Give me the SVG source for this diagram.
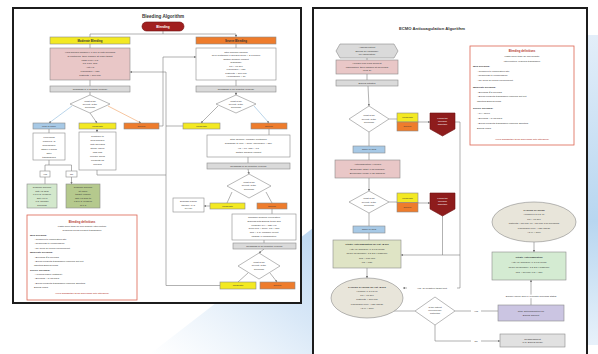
<svg xmlns="http://www.w3.org/2000/svg" width="598" height="354" viewBox="0 0 598 354">
<defs>
<style>
.t{font-family:"Liberation Sans",Arial,sans-serif;font-size:2.5px;fill:#333;text-anchor:middle}
.tl{text-anchor:start}
.b{font-weight:bold}
.w{fill:#fff}
.red{fill:#b5372b}
.bx{stroke:#8a8a8a;stroke-width:0.6}
.frame{fill:#fff;stroke:#1c1c1c;stroke-width:2}
.yel{fill:#f3e922}
.org{fill:#ee7c2c}
.blu{fill:#a7c9e6}
.pnk{fill:#e9c7c7}
.gry{fill:#dadada}
.wht{fill:#fff}
.def{fill:#fff;stroke:#dd6452;stroke-width:0.8}
.dk{fill:#8e1c1c;stroke:#6e1010;stroke-width:0.6}
.c path,.c line{fill:none;stroke:#7d7d7d;stroke-width:0.6}
.lb{fill:#fff}
</style>
<marker id="ah" viewBox="0 0 6 6" refX="5.6" refY="3" markerWidth="4" markerHeight="4" orient="auto"><path d="M0,0L6,3L0,6z" fill="#777"/></marker>
<linearGradient id="sw" x1="0" y1="1" x2="1" y2="0"><stop offset="0" stop-color="#dbeaf8" stop-opacity="0"/><stop offset="0.6" stop-color="#cfe2f5" stop-opacity="0.8"/><stop offset="1" stop-color="#bcd7f1"/></linearGradient>
<linearGradient id="rs" x1="0" y1="0" x2="0" y2="1"><stop offset="0" stop-color="#e3eef9"/><stop offset="0.6" stop-color="#b8d6f0"/><stop offset="1" stop-color="#e8f1fa"/></linearGradient>
</defs>
<rect width="598" height="354" fill="#fff"/>
<g id="background">
<path d="M150,354 L313,228 L313,354 Z" fill="url(#sw)"/>
<rect x="587" y="35" width="11" height="310" fill="url(#rs)"/>
</g>

<!-- LEFT PANEL: Bleeding Algorithm -->
<g id="left-frame"><rect class="frame" x="13" y="8" width="288" height="295"/></g>
<g id="left-title"><text class="t b" x="163" y="17.5" style="font-size:4.6px">Bleeding Algorithm</text></g>

<g class="c" id="connectors-left">
<path d="M163,31V34M90,34H236"/>
<path d="M90,34V37M236,34V37" marker-end="url(#ah)"/>
<path d="M90,44V48M90,80V86M90,92V95M236,44V48M236,80V86M236,92V95" marker-end="url(#ah)"/>
<path d="M72,106L49,123" style="stroke:#8cb8dc" marker-end="url(#ah)"/>
<path d="M90,113L97,123" marker-end="url(#ah)"/>
<path d="M108,106L141,123" style="stroke:#f0a060" marker-end="url(#ah)"/>
<path d="M218,106L201,123" marker-end="url(#ah)"/>
<path d="M254,106L269,123" style="stroke:#8cb8dc" marker-end="url(#ah)"/>
<path d="M49,129V133M97,129V132" marker-end="url(#ah)"/>
<path d="M49,160V165M45,165H71.5"/>
<path d="M45,165V171M71.5,165V171M45,177V184M71.5,177V184" marker-end="url(#ah)"/>
<path d="M97,170V175H166"/>
<path d="M159,126H163V57H196" marker-end="url(#ah)"/>
<path d="M183,126H166" />
<path d="M220,285.5H166V72H130" marker-end="url(#ah)"/>
<path d="M269,129V135M248,157V163M248,169L249,174" marker-end="url(#ah)"/>
<path d="M232,192L227,203M266,192L272,203M210,206H204" marker-end="url(#ah)"/>
<path d="M272,209V214M264,240V243M264,249L259,253" marker-end="url(#ah)"/>
<path d="M248,273L238,282M270,273L277,282" marker-end="url(#ah)"/>
</g>

<g id="bleeding-start"><rect x="142" y="22" width="42" height="9" rx="4.5" fill="#a11f1f" stroke="#6e1010" stroke-width="0.6"/><text class="t w b" x="163" y="27.7" style="font-size:3.2px">Bleeding</text></g>
<g id="moderate-bleeding"><rect class="bx yel" x="50" y="37" width="80" height="7"/><text class="t b" x="90" y="41.5" style="font-size:2.8px">Moderate Bleeding</text></g>
<g id="severe-bleeding"><rect class="bx org" x="196" y="37" width="80" height="7"/><text class="t b" x="236" y="41.5" style="font-size:2.8px">Severe Bleeding</text></g>
<g id="moderate-actions"><rect class="bx pnk" x="50" y="48" width="80" height="32"/>
<text class="t" x="90" y="53">Hold heparin infusion x 1-2 h or until bleeding</text>
<text class="t" x="90" y="56.8">is controlled, then resume at lower target</text>
<text class="t" x="90" y="60.6">Labs every 6 h:</text>
<text class="t" x="90" y="64.4">PT, PTT, INR</text>
<text class="t" x="90" y="68.2">Anti-Xa</text>
<text class="t" x="90" y="72">Fibrinogen &gt; 150</text>
<text class="t" x="90" y="75.8">Platelets &gt; 100,000</text></g>
<g id="severe-actions"><rect class="bx wht" x="196" y="48" width="80" height="32"/>
<text class="t" x="236" y="52.5">Stop heparin infusion</text>
<text class="t" x="236" y="56">Give protamine if heparin given &lt; 2 h before</text>
<text class="t" x="236" y="59.5">Obtain surgical consult</text>
<text class="t" x="236" y="63">Transfuse:</text>
<text class="t" x="236" y="66.5">PT &lt; 17 sec</text>
<text class="t" x="236" y="70">Fibrinogen &gt; 150</text>
<text class="t" x="236" y="73.5">Platelets &gt; 100,000</text>
<text class="t" x="236" y="77">Hemoglobin &gt; 10</text></g>
<g id="reassess-left"><rect class="bx gry" x="50" y="86" width="80" height="6"/><text class="t" x="90" y="89.9">Reassess in 1-2 hours (clinical)</text></g>
<g id="reassess-right"><rect class="bx gry" x="196" y="86" width="80" height="6"/><text class="t" x="236" y="89.9">Reassess in 30 minutes (clinical)</text></g>
<g id="severity-left"><polygon class="bx wht" points="90,95 110,104 90,113 70,104"/><text class="t" x="90" y="101.6" style="font-size:2.3px">What is the</text><text class="t" x="90" y="104.6" style="font-size:2.3px">severity of the</text><text class="t" x="90" y="107.6" style="font-size:2.3px">bleeding?</text></g>
<g id="severity-right"><polygon class="bx wht" points="236,95 256,104 236,113 216,104"/><text class="t" x="236" y="101.6" style="font-size:2.3px">What is the</text><text class="t" x="236" y="104.6" style="font-size:2.3px">severity of the</text><text class="t" x="236" y="107.6" style="font-size:2.3px">bleeding?</text></g>
<g id="l-none"><rect class="bx blu" x="33" y="123" width="32" height="6"/><text class="t" x="49" y="126.9">Mild or none</text></g>
<g id="l-moderate"><rect class="bx yel" x="79" y="123" width="37" height="6"/><text class="t" x="97.5" y="126.9">Moderate</text></g>
<g id="l-severe"><rect class="bx org" x="124" y="123" width="35" height="6"/><text class="t" x="141.5" y="126.9">Severe</text></g>
<g id="r-moderate"><rect class="bx yel" x="183" y="123" width="37" height="6"/><text class="t" x="201.5" y="126.9">Moderate</text></g>
<g id="r-severe"><rect class="bx org" x="251" y="123" width="36" height="6"/><text class="t" x="269" y="126.9">Severe</text></g>
<g id="resume-box"><rect class="bx wht" x="33" y="133" width="32" height="27"/>
<text class="t" x="49" y="137.5">If bleeding</text><text class="t" x="49" y="141.5">resolved, is</text><text class="t" x="49" y="145.5">hemoglobin</text><text class="t" x="49" y="149.5">stable 6 hours</text><text class="t" x="49" y="153.5">after</text><text class="t" x="49" y="157.5">transfusion?</text></g>
<g id="hold-box"><rect class="bx wht" x="79" y="132" width="37" height="38"/>
<text class="t" x="97.5" y="136.5">Continue to</text><text class="t" x="97.5" y="140.6">hold heparin</text><text class="t" x="97.5" y="144.7">until bleeding</text><text class="t" x="97.5" y="148.8">stops; check</text><text class="t" x="97.5" y="152.9">labs and</text><text class="t" x="97.5" y="157">replace blood</text><text class="t" x="97.5" y="161.1">products as</text><text class="t" x="97.5" y="165.2">needed</text></g>
<g id="yes-l"><rect class="bx wht" x="40" y="171" width="10" height="6"/><text class="t" x="45" y="174.9">Yes</text></g>
<g id="no-l"><rect class="bx wht" x="66" y="171" width="11" height="6"/><text class="t" x="71.5" y="174.9">No</text></g>
<g id="resume-goal"><rect class="bx" fill="#d3e8cc" x="27" y="184" width="30" height="24"/>
<text class="t" x="42" y="188">Resume heparin</text><text class="t" x="42" y="191.6">anti-Xa goal</text><text class="t" x="42" y="195.2">0.3-0.5; recheck</text><text class="t" x="42" y="198.8">anti-Xa in</text><text class="t" x="42" y="202.4">6 h; monitor</text><text class="t" x="42" y="206">bleeding</text></g>
<g id="lower-goal"><rect class="bx" fill="#b5c98d" x="66" y="184" width="34" height="24"/>
<text class="t" x="83" y="188">Resume heparin</text><text class="t" x="83" y="191.6">at lower</text><text class="t" x="83" y="195.2">target; reduce</text><text class="t" x="83" y="198.8">anti-Xa goal to</text><text class="t" x="83" y="202.4">0.2-0.3; recheck</text><text class="t" x="83" y="206">in 6 h</text></g>
<g id="definitions-left"><rect class="def" x="27" y="215" width="110" height="85"/>
<text class="t b red" x="82" y="222.5" style="font-size:2.8px">Bleeding definitions</text>
<text class="t" x="82" y="227">Lasts more than 30 min despite intervention</text>
<text class="t" x="82" y="231.3">Requires blood product transfusion</text>
<text class="t tl b" x="30" y="235.8">Mild bleeding:</text>
<text class="t tl" x="34" y="240.1">- Confined to cannulation site</text>
<text class="t tl" x="34" y="244.4">- Responds to compression</text>
<text class="t tl" x="34" y="248.7">- No need for blood replacement</text>
<text class="t tl b" x="30" y="253.2">Moderate bleeding:</text>
<text class="t tl" x="34" y="257.5">- Bleeding ≤ 5 mL/kg/h</text>
<text class="t tl" x="34" y="261.8">- Blood products transfusion required but not</text>
<text class="t tl" x="34" y="266.1">  affecting ECMO flows</text>
<text class="t tl b" x="30" y="270.6">Severe bleeding:</text>
<text class="t tl" x="34" y="274.9">- Hemodynamic instability</text>
<text class="t tl" x="34" y="279.2">- Bleeding &gt; 5 mL/kg/h</text>
<text class="t tl" x="34" y="283.5">- Blood products transfusion required affecting</text>
<text class="t tl" x="34" y="287.8">  ECMO flows</text>
<text class="t red" x="82" y="294" style="font-style:italic">*Final disposition to be discussed with attending*</text></g>
<g id="severe-2"><rect class="bx wht" x="207" y="135" width="83" height="22"/>
<text class="t" x="248.5" y="140">Stop heparin; consider protamine</text><text class="t" x="248.5" y="144.3">Transfuse to PLT &gt; 100K, fibrinogen &gt; 150,</text><text class="t" x="248.5" y="148.6">Hb &gt; 10, INR &lt; 1.5</text><text class="t" x="248.5" y="152.9">Obtain surgical consult</text></g>
<g id="reassess-2"><rect class="bx gry" x="207" y="163" width="83" height="6"/><text class="t" x="248.5" y="166.9">Reassess in 30 minutes (clinical)</text></g>
<g id="severity-2"><polygon class="bx wht" points="249,174 271,186 249,198 227,186"/><text class="t" x="249" y="183.3" style="font-size:2.3px">What is the</text><text class="t" x="249" y="186.4" style="font-size:2.3px">severity of the</text><text class="t" x="249" y="189.5" style="font-size:2.3px">bleeding?</text></g>
<g id="rescue"><rect class="bx wht" x="173" y="198" width="31" height="14"/><text class="t" x="188.5" y="202.3">Discuss rescue</text><text class="t" x="188.5" y="205.8">therapy (e.g.</text><text class="t" x="188.5" y="209.3">rFVIIa)</text></g>
<g id="moderate-2"><rect class="bx yel" x="210" y="203" width="35" height="6"/><text class="t" x="227.5" y="206.9">Moderate</text></g>
<g id="severe-3"><rect class="bx org" x="257" y="203" width="30" height="6"/><text class="t" x="272" y="206.9">Severe</text></g>
<g id="severe-actions-2"><rect class="bx wht" x="232" y="214" width="64" height="26"/>
<text class="t" x="264" y="218.3">Consider surgical exploration</text><text class="t" x="264" y="222">Discuss with ECMO team and</text><text class="t" x="264" y="225.7">consider TXA / DDAVP</text><text class="t" x="264" y="229.4">Goal PLT &gt; 100K, Fib &gt; 200</text><text class="t" x="264" y="233.1">INR &lt; 1.5; consider circuit</text><text class="t" x="264" y="236.8">change if consumptive</text></g>
<g id="reassess-3"><rect class="bx gry" x="233" y="243" width="63" height="6"/><text class="t" x="264.5" y="246.9">Reassess in 30 minutes (clinical)</text></g>
<g id="severity-3"><polygon class="bx wht" points="259,253 280,266 259,279 238,266"/><text class="t" x="259" y="263.3" style="font-size:2.3px">What is the</text><text class="t" x="259" y="266.4" style="font-size:2.3px">severity of the</text><text class="t" x="259" y="269.5" style="font-size:2.3px">bleeding?</text></g>
<g id="moderate-3"><rect class="bx yel" x="220" y="282" width="36" height="7"/><text class="t" x="238" y="286.4">Moderate</text></g>
<g id="severe-4"><rect class="bx org" x="260" y="282" width="35" height="7"/><text class="t" x="277.5" y="286.4">Severe</text></g>

<!-- RIGHT PANEL: ECMO Anticoagulation Algorithm -->
<g id="right-frame"><rect class="frame" x="313" y="8" width="274" height="362"/></g>
<g id="right-title"><text class="t b" x="432" y="29.5" style="font-size:4.2px">ECMO Anticoagulation Algorithm</text></g>

<g class="c" id="connectors-right">
<path d="M367,58V60M367,74V80M368,86L369,106" marker-end="url(#ah)"/>
<path d="M389,119H397M418,122H430" marker-end="url(#ah)"/>
<path d="M455,122H460V288H403" marker-end="url(#ah)"/>
<path d="M369,132V146M369,153V160M369,178V191" marker-end="url(#ah)"/>
<path d="M389,202H397M418,203H430" marker-end="url(#ah)"/>
<path d="M442.5,216V255"/>
<path d="M460,255H401" marker-end="url(#ah)"/>
<path d="M369,213V226M369,233V240M367,268V278" marker-end="url(#ah)"/>
<path d="M394,311H415M455,311H498M435,325V341H500" marker-end="url(#ah)"/>
<path d="M534,242V252" marker-end="url(#ah)"/>
<path d="M531,305V280" marker-end="url(#ah)"/>
</g>
<g id="edge-labels">
<rect class="lb" x="407" y="286.3" width="50" height="3.4"/><text class="t" x="432" y="288.9">Yes, all negative target met</text>
<rect class="lb" x="471" y="309.3" width="10" height="3.4"/><text class="t" x="476" y="311.9">Yes</text>
<rect class="lb" x="471" y="339.3" width="10" height="3.4"/><text class="t" x="476" y="341.9">No</text>
<rect class="lb" x="497" y="294.6" width="68" height="3.6"/><text class="t" x="531" y="297.3">Double check and re-evaluate bleeding status</text>
</g>
<g id="assess"><polygon class="bx gry" points="340,44 394,44 398,51 394,58 340,58 336,51"/><text class="t" x="367" y="48">Assess patient</text><text class="t" x="367" y="51.6">ECMO for candidacy</text><text class="t" x="367" y="55.2">for cannulation</text></g>
<g id="heparin-bolus"><rect class="bx pnk" x="336" y="60" width="62" height="14"/><text class="t" x="367" y="64.2">Heparin 100 U/kg bolus at</text><text class="t" x="367" y="67.8">cannulation, then infusion at 18 U/kg/h</text><text class="t" x="367" y="71.4">(PTT 2)</text></g>
<g id="ecmo-initiated"><rect class="bx gry" x="336" y="80" width="62" height="6"/><text class="t" x="367" y="83.9">ECMO initiated</text></g>
<g id="severity-e1"><polygon class="bx wht" points="369,106 389,119 369,132 349,119"/><text class="t" x="369" y="116.4" style="font-size:2.3px">What is the</text><text class="t" x="369" y="119.5" style="font-size:2.3px">severity of the</text><text class="t" x="369" y="122.6" style="font-size:2.3px">bleeding?</text></g>
<g id="mod-sev-1"><rect class="bx yel" x="397" y="113" width="21" height="9"/><rect class="bx org" x="397" y="122" width="21" height="9"/><text class="t" x="407.5" y="118.3">Moderate</text><text class="t" x="407.5" y="127.3">Severe</text></g>
<g id="follow-1"><polygon class="dk" points="430,113 455,113 455,129 442.5,136 430,129"/><text class="t w" x="442.5" y="118.5" style="font-size:2.3px">Follow the</text><text class="t w" x="442.5" y="121.8" style="font-size:2.3px">bleeding</text><text class="t w" x="442.5" y="125.1" style="font-size:2.3px">algorithm</text></g>
<g id="none-1"><rect class="bx blu" x="353" y="146" width="32" height="7"/><text class="t" x="369" y="150.4">None or mild</text></g>
<g id="anticoag"><rect class="bx pnk" x="335" y="160" width="65" height="18"/><text class="t" x="367.5" y="165">Anticoagulation: Heparin</text><text class="t" x="367.5" y="169.5">Bivalirudin (start: 0.15 mg/kg/h)</text><text class="t" x="367.5" y="174">Bivalirudin (renal: 0.05 mg/kg/h)</text></g>
<g id="severity-e2"><polygon class="bx wht" points="369,191 389,202 369,213 349,202"/><text class="t" x="369" y="199.4" style="font-size:2.3px">What is the</text><text class="t" x="369" y="202.5" style="font-size:2.3px">severity of the</text><text class="t" x="369" y="205.6" style="font-size:2.3px">bleeding?</text></g>
<g id="mod-sev-2"><rect class="bx yel" x="397" y="193" width="21" height="9.5"/><rect class="bx org" x="397" y="202.5" width="21" height="9.5"/><text class="t" x="407.5" y="198.6">Moderate</text><text class="t" x="407.5" y="208.1">Severe</text></g>
<g id="follow-2"><polygon class="dk" points="430,193 455,193 455,209 442.5,216 430,209"/><text class="t w" x="442.5" y="198.5" style="font-size:2.3px">Follow the</text><text class="t w" x="442.5" y="201.8" style="font-size:2.3px">bleeding</text><text class="t w" x="442.5" y="205.1" style="font-size:2.3px">algorithm</text></g>
<g id="none-2"><rect class="bx blu" x="353" y="226" width="32" height="7"/><text class="t" x="369" y="230.4">None or mild</text></g>
<g id="titrate-48"><rect class="bx" fill="#dfe4c5" x="333" y="240" width="68" height="28"/>
<text class="t b" x="367" y="245">Titrate Anticoagulation for 1st 48 hrs</text><text class="t" x="367" y="249.6">Anti-Xa (heparin): 0.3-0.5 IU/mL</text><text class="t" x="367" y="254.2">aPTT (bivalirudin): 1.5-2.5 x baseline</text><text class="t" x="367" y="258.8">PLT &gt; 100,000</text><text class="t" x="367" y="263.4">Fib &gt; 150</text></g>
<g id="target-48"><ellipse class="bx" fill="#e8e5da" cx="367" cy="298" rx="36" ry="20"/>
<text class="t b" x="367" y="287.5">TARGET RANGES for 1st 48 hrs</text><text class="t" x="367" y="291.8">Heparin: 0.3-0.5 IU</text><text class="t" x="367" y="296.1">PT &lt; 17 sec</text><text class="t" x="367" y="300.4">Platelets &gt; 100,000</text><text class="t" x="367" y="304.7">Fibrinogen level &gt; 150 mg/dL</text><text class="t" x="367" y="309">AT III &gt; 80%</text></g>
<g id="candidate"><polygon class="bx wht" points="435,297 455,311 435,325 415,311"/><text class="t" x="435" y="308" style="font-size:2.3px">Is the patient</text><text class="t" x="435" y="311.2" style="font-size:2.3px">receiving any</text><text class="t" x="435" y="314.4" style="font-size:2.3px">platelets?</text></g>
<g id="stop-anticoag"><rect class="bx" fill="#cbc5e2" x="498" y="305" width="66" height="16"/><text class="t" x="531" y="312">Stop anticoagulation for</text><text class="t" x="531" y="315.6">ECMO support</text></g>
<g id="reassessment"><rect class="bx" fill="#e1e1e1" x="500" y="334" width="65" height="13"/><text class="t" x="532.5" y="339.6">Reassessment</text><text class="t" x="532.5" y="343.2">(e.g. ECMO wean)</text></g>
<g id="target-ranges"><ellipse class="bx" fill="#e8e5da" cx="534" cy="222" rx="42" ry="20"/>
<text class="t b" x="534" y="210.5">TARGET RANGES</text><text class="t" x="534" y="215">Heparin 0.3-0.5 IU</text><text class="t" x="534" y="219.5">PT &lt; 17 sec</text><text class="t" x="534" y="224">Platelets &gt; 80,000 (or &gt; 50,000 if no bleeding)</text><text class="t" x="534" y="228.5">Fibrinogen level &gt; 150 mg/dL</text><text class="t" x="534" y="233">AT III &gt; 80%</text></g>
<g id="titrate"><rect class="bx" fill="#d4ebd2" x="492" y="252" width="74" height="28"/>
<text class="t b" x="529" y="257.5">Titrate Anticoagulation</text><text class="t" x="529" y="262.5">Anti-Xa (heparin): 0.3-0.5 IU/mL</text><text class="t" x="529" y="267.5">aPTT (bivalirudin): 1.5-2.5 x baseline</text><text class="t" x="529" y="272.5">PLT &gt; 80,000; Fib &gt; 150</text></g>
<g id="definitions-right"><rect class="def" x="470" y="46" width="104" height="99"/>
<text class="t b red" x="522" y="52.3" style="font-size:2.8px">Bleeding definitions</text>
<text class="t" x="522" y="57">Lasts more than 30 min despite</text>
<text class="t" x="522" y="61.7">intervention; requires transfusion</text>
<text class="t tl b" x="473" y="67">Mild bleeding:</text>
<text class="t tl" x="477" y="71.7">- Confined to cannulation site</text>
<text class="t tl" x="477" y="76.3">- Responds to compression</text>
<text class="t tl" x="477" y="81">- No need for blood replacement</text>
<text class="t tl b" x="473" y="88">Moderate bleeding:</text>
<text class="t tl" x="477" y="92.7">- Bleeding ≤ 5 mL/kg/h</text>
<text class="t tl" x="477" y="97.3">- Blood products transfusion required but not</text>
<text class="t tl" x="477" y="102">  affecting ECMO flows</text>
<text class="t tl b" x="473" y="108.5">Severe bleeding:</text>
<text class="t tl" x="477" y="113.5">- TXA given</text>
<text class="t tl" x="477" y="118.5">- Bleeding &gt; 5 mL/kg/h</text>
<text class="t tl" x="477" y="123.5">- Blood products transfusion required affecting</text>
<text class="t tl" x="477" y="128.5">  ECMO flows</text>
<text class="t red" x="522" y="140" style="font-style:italic">*Final disposition to be discussed with attending*</text></g>
</svg>
